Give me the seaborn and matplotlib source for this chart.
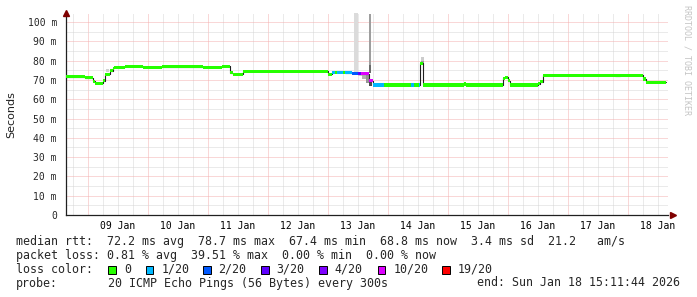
import numpy as np
import pandas as pd
import matplotlib
matplotlib.use("Agg")
import matplotlib.pyplot as plt
import seaborn as sns
from matplotlib.patches import Rectangle

# ---------------- data ----------------
end_time = pd.Timestamp("2026-01-18 15:11:44")
start_time = end_time - pd.Timedelta(days=10)
window_hours = 240.0

# median rtt step series: start of each step (hours since window start), value (ms), loss (x/20)
step_hours = [0.0, 7.6, 10.8, 11.6, 14.8, 15.6, 17.6, 18.8, 19.2, 23.6, 30.8, 38.4,
              54.8, 62.4, 65.6, 66.8, 70.8, 104.8, 106.4, 107.6, 108.4, 110.8, 111.6,
              114.4, 116.8, 118.0, 121.2, 122.8, 127.2, 138.0, 139.2, 141.2, 141.6,
              142.8, 159.2, 160.0, 174.8, 175.6, 176.8, 177.6, 188.8, 189.6, 190.8,
              219.6, 221.6, 230.8, 232.0]
median_ms = [71.6, 71.1, 69.4, 68.2, 69.6, 73.0, 74.8, 76.0, 76.6, 77.0, 76.5, 76.9,
             76.5, 77.0, 73.7, 73.0, 74.4, 73.0, 73.9, 73.9, 73.9, 73.9, 73.7,
             73.5, 73.5, 73.3, 69.5, 67.4, 67.4, 67.4, 67.4, 67.4, 78.7,
             67.4, 67.9, 67.4, 70.8, 71.5, 69.6, 67.4, 68.0, 69.1, 72.5,
             72.2, 72.5, 70.5, 68.8]
loss_20 = [0, 0, 0, 0, 0, 0, 0, 0, 0, 0, 0, 0,
           0, 0, 0, 0, 0, 0, 1, 0, 1, 0, 1,
           2, 3, 10, 10, 1, 0, 1, 0, 1, 0,
           0, 0, 0, 0, 0, 0, 0, 0, 0, 0,
           0, 0, 0, 0]

# smoke (ping spread) blocks: start h, end h, low ms, high ms, grey level
smoke_start = [16.0, 115.2, 121.2, 121.2, 116.8, 118.4, 120.0, 121.2, 142.0, 142.0]
smoke_end = [17.2, 116.8, 122.0, 122.0, 118.4, 120.0, 121.2, 122.6, 143.2, 143.2]
smoke_low = [74.0, 74.3, 75.0, 73.5, 71.8, 70.5, 68.5, 66.8, 78.7, 78.7]
smoke_high = [75.6, 104.7, 104.0, 78.0, 73.0, 73.0, 72.5, 70.5, 82.0, 80.0]
smoke_grey = [0.82, 0.86, 0.62, 0.42, 0.80, 0.70, 0.58, 0.30, 0.80, 0.60]

loss_levels = ["0", "1/20", "2/20", "3/20", "4/20", "10/20", "19/20"]
loss_level_values = [0, 1, 2, 3, 4, 10, 19]
loss_colors = ["#26ff00", "#00b8ff", "#0059ff", "#5e00ff", "#7e00ff", "#dd00ff", "#ff0000"]

y_ticks = [0, 10, 20, 30, 40, 50, 60, 70, 80, 90, 100]
y_tick_labels = ["0", "10 m", "20 m", "30 m", "40 m", "50 m", "60 m", "70 m", "80 m", "90 m", "100 m"]

stats_line1 = "median rtt:  72.2 ms avg  78.7 ms max  67.4 ms min  68.8 ms now  3.4 ms sd  21.2   am/s"
stats_line2 = "packet loss: 0.81 % avg  39.51 % max  0.00 % min  0.00 % now"
probe_text = "20 ICMP Echo Pings (56 Bytes) every 300s"
end_text = "end: Sun Jan 18 15:11:44 2026"

# ---------------- figure ----------------
sns.set_style("white")
plt.rcParams["font.family"] = ["DejaVu Sans Mono"]

W, H = 697, 297
fig = plt.figure(figsize=(W / 100, H / 100), dpi=100)
fig.patch.set_facecolor("white")
ax = fig.add_axes([66 / W, (H - 215) / H, 602 / W, (215 - 13) / H])
ax.set_facecolor("white")

xmax = 602 * 0.4
ymax = 104.7
ax.set_xlim(0, xmax)
ax.set_ylim(0, ymax)

# grid
grid_times = pd.date_range(start_time.ceil("6h"), end_time + pd.Timedelta(hours=2), freq="6h")
grid_h = [(t - start_time).total_seconds() / 3600 for t in grid_times]
midnight_h = [gh for t, gh in zip(grid_times, grid_h) if t.hour == 0 and gh <= xmax]
dot = (0, (1, 1))
major_grid = "#f4b0b0"
minor_grid = "#d6d6d6"
for t, gh in zip(grid_times, grid_h):
    if gh > xmax:
        continue
    ax.axvline(gh, color=major_grid if t.hour == 0 else minor_grid, lw=0.72, ls=dot, zorder=0)
for yv in range(5, 105, 5):
    ax.axhline(yv, color=major_grid if yv % 10 == 0 else minor_grid, lw=0.72, ls=dot, zorder=0)

# smoke
for s, e, lo, hi, g in zip(smoke_start, smoke_end, smoke_low, smoke_high, smoke_grey):
    ax.bar(s, hi - lo, width=e - s, bottom=lo, align="edge",
           color=(g, g, g), linewidth=0, zorder=1)

# median black step line
line_df = pd.DataFrame({"h": step_hours + [window_hours],
                        "ms": median_ms + [median_ms[-1]]})
sns.lineplot(data=line_df, x="h", y="ms", drawstyle="steps-post", color="#202020",
             linewidth=0.8, estimator=None, ax=ax, zorder=2)

# loss-coloured median bands
half = 0.8
ends = step_hours[1:] + [window_hours]
col_of = dict(zip(loss_level_values, loss_colors))
for s, e, v, l in zip(step_hours, ends, median_ms, loss_20):
    ax.bar(s, 2 * half, width=e - s, bottom=v - half, align="edge",
           color=col_of[l], linewidth=0, zorder=3)

# axes styling
for sp in ["top", "right"]:
    ax.spines[sp].set_visible(False)
for sp in ["left", "bottom"]:
    ax.spines[sp].set_color("#202020")
    ax.spines[sp].set_linewidth(0.9)

label_times = pd.date_range(start_time.ceil("1D") + pd.Timedelta(hours=12), end_time, freq="1D")
label_h = [(t - start_time).total_seconds() / 3600 for t in label_times]
ax.set_xticks(label_h, [t.strftime("%d %b") for t in label_times])
ax.set_xticks(midnight_h, minor=True)
ax.tick_params(axis="x", which="major", length=0, pad=4.5, labelsize=7, colors="black")
ax.tick_params(axis="x", which="minor", length=2.5, width=0.7, color="#c07070")
ax.set_yticks(y_ticks, y_tick_labels)
ax.tick_params(axis="y", which="major", length=2.5, width=0.7, pad=4, labelsize=7, color="#404040")
ax.set_xlabel("")
ax.set_ylabel("")

# arrows at axis ends
ax.plot([0], [1.0], marker="^", color="#7f0000", markersize=4.5, transform=ax.transAxes,
        clip_on=False, zorder=5)
ax.plot([1.008], [0], marker=">", color="#7f0000", markersize=4.5, transform=ax.transAxes,
        clip_on=False, zorder=5)

# y label and watermark
fig.text(11 / W, 1 - 115 / H, "Seconds", rotation=90, ha="center", va="center",
         fontsize=8, family="DejaVu Sans", color="#202020")
fig.text(687 / W, 1 - 5 / H, "RRDTOOL / TOBI OETIKER", rotation=270, ha="center", va="top",
         fontsize=6, color="#c4c4c4")

# legend / stats text
fs = 8.4
fig.text(16 / W, 1 - 242 / H, stats_line1, fontsize=fs, va="center", ha="left")
fig.text(16 / W, 1 - 255.5 / H, stats_line2, fontsize=fs, va="center", ha="left")
fig.text(16 / W, 1 - 269.5 / H, "loss color:", fontsize=fs, va="center", ha="left")
box_x = [108.3, 145.7, 203, 261, 319, 377.7, 442]
for bx, lab, c in zip(box_x, loss_levels, loss_colors):
    fig.patches.append(Rectangle((bx / W, 1 - 273.5 / H), 7.5 / W, 7.5 / H,
                                 transform=fig.transFigure, facecolor=c,
                                 edgecolor="black", linewidth=0.7))
    fig.text((bx + 15.5) / W, 1 - 269.5 / H, lab, fontsize=fs, va="center", ha="left")
fig.text(16 / W, 1 - 283 / H, "probe:", fontsize=fs, va="center", ha="left")
fig.text(108.3 / W, 1 - 283 / H, probe_text, fontsize=fs, va="center", ha="left")
fig.text(680 / W, 1 - 283 / H, end_text, fontsize=fs, va="center", ha="right")

fig.savefig("out.png", dpi=100, facecolor="white")
